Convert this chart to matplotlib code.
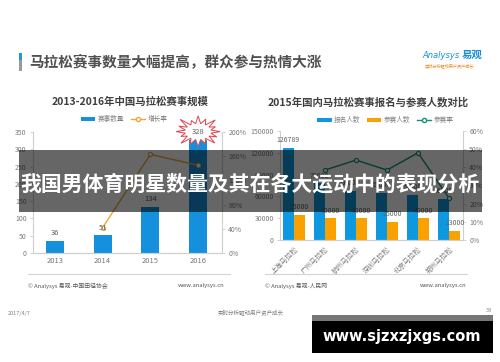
import numpy as np
import matplotlib
matplotlib.use('Agg')
import matplotlib.pyplot as plt
from matplotlib.patches import Rectangle, Polygon, Patch
from matplotlib.lines import Line2D
from matplotlib import transforms as mtrans

plt.rcParams['font.family'] = ['Noto Sans CJK SC', 'DejaVu Sans']

# ---------------- data ----------------
years = ['2013', '2014', '2015', '2016']
event_counts = [36, 51, 134, 328]
growth_rate = [np.nan, 42, 163, 145]          # %
left_yticks = [0, 50, 100, 150, 200, 250, 300, 350]
left_rticks = [0, 40, 80, 120, 160, 200]

cities = ['上海马拉松', '广州马拉松', '杭州马拉松', '深圳马拉松', '北京马拉松', '郑州马拉松']
registrations = [126789, 78000, 68000, 65000, 62500, 56500]
participants = [35000, 30000, 30000, 25000, 30000, 13000]
participation_rate = [np.nan, 38.5, 44, 38.5, 48, 23]   # %
right_yticks = [0, 30000, 60000, 90000, 120000, 150000]
right_rticks = [0, 10, 20, 30, 40, 50, 60]

W, H = 500, 362
fig = plt.figure(figsize=(5, 3.62), dpi=100)
fig.patch.set_facecolor('white')


def box(x0, y0, x1, y1):
    return [x0 / W, 1 - y1 / H, (x1 - x0) / W, (y1 - y0) / H]


AX_C = '#cfcfcf'
LAB_C = '#7a7a7a'
VAL_C = '#606060'


def style(ax):
    ax.set_facecolor('none')
    ax.spines['top'].set_visible(False)
    for s in ['left', 'right', 'bottom']:
        ax.spines[s].set_color(AX_C)
        ax.spines[s].set_linewidth(0.8)
    ax.tick_params(axis='y', colors=AX_C, labelcolor=LAB_C, labelsize=5,
                   length=2.5, width=0.6, pad=2)
    ax.tick_params(axis='x', length=0, labelcolor=LAB_C, labelsize=5.5, pad=3)


# ---------------- left chart ----------------
ax1 = fig.add_axes(box(33, 132, 222, 253))
x1 = np.arange(len(years))
ax1.bar(x1, event_counts, width=0.38, color='#1590dc', zorder=2)
ax1.set_xlim(-0.46, 3.5)
ax1.set_ylim(0, 350)
ax1.set_yticks(left_yticks)
ax1.set_xticks(x1)
ax1.set_xticklabels(years)
style(ax1)
ax1.spines['right'].set_visible(False)

ax1b = ax1.twinx()
style(ax1b)
ax1b.spines['left'].set_visible(False)
ax1b.set_ylim(0, 200)
ax1b.set_yticks(left_rticks)
ax1b.set_yticklabels([f'{v}%' for v in left_rticks])
ax1b.plot(x1, growth_rate, color='#eea733', lw=1, marker='o', ms=3,
          mfc='white', mec='#eea733', mew=0.8, zorder=3)

# starburst behind the highest value label
n = 32
ang = np.linspace(0, 2 * np.pi, n, endpoint=False)
fac = np.array([1.0, 0.85, 1.1, 0.9, 1.05, 0.8, 1.15, 0.95,
                1.0, 0.85, 1.1, 0.9, 1.0, 0.88, 1.08, 0.92])
idx = np.arange(n)
rx = np.where(idx % 2 == 0, 22 * fac[idx // 2], 13)
ry = np.where(idx % 2 == 0, 15 * fac[idx // 2], 8)
verts = np.column_stack([rx * np.cos(ang), ry * np.sin(ang) + 8])
star_t = mtrans.Affine2D().scale(fig.dpi / 100) + \
    mtrans.ScaledTranslation(x1[-1], event_counts[-1], ax1.transData)
star = Polygon(verts, closed=True, facecolor='white', edgecolor='#e0434b',
               lw=0.7, transform=star_t, clip_on=False, zorder=4)
ax1b.add_patch(star)

for i, v in enumerate(event_counts):
    ax1b.annotate(str(v), xy=(i, v), xycoords=ax1.transData, xytext=(0, 2.5),
                  textcoords='offset points', ha='center', va='bottom',
                  fontsize=5.5, color=VAL_C, zorder=5)

h1 = [Patch(facecolor='#1590dc', edgecolor='none'),
      Line2D([], [], color='#eea733', lw=1, marker='o', ms=3, mfc='white', mec='#eea733')]
ax1b.legend(h1, ['赛事数量', '增长率'], loc='center', bbox_to_anchor=(124 / W, 1 - 119 / H),
            bbox_transform=fig.transFigure, ncol=2, frameon=False, fontsize=4.8,
            handlelength=2.2, handleheight=0.5, handletextpad=0.3, columnspacing=1.0,
            labelcolor='#808080')

# ---------------- right chart ----------------
ax2 = fig.add_axes(box(280, 131, 463, 240))
x2 = np.arange(len(cities))
ax2.bar(x2 - 0.18, registrations, width=0.36, color='#0e98e0', zorder=2)
ax2.bar(x2 + 0.18, participants, width=0.36, color='#f8a100', zorder=2)
ax2.set_xlim(-0.45, 5.45)
ax2.set_ylim(0, 150000)
ax2.set_yticks(right_yticks)
ax2.set_xticks(x2)
ax2.set_xticklabels(cities, rotation=45, ha='right', va='top', rotation_mode='anchor')
style(ax2)
ax2.tick_params(axis='x', labelsize=5, pad=4)
ax2.spines['right'].set_visible(False)

ax2b = ax2.twinx()
style(ax2b)
ax2b.spines['left'].set_visible(False)
ax2b.set_ylim(0, 60)
ax2b.set_yticks(right_rticks)
ax2b.set_yticklabels([f'{v}%' for v in right_rticks])
ax2b.plot(x2, participation_rate, color='#168f7e', lw=1, marker='o', ms=3,
          mfc='white', mec='#168f7e', mew=0.8, zorder=3)

for i, v in enumerate(registrations):
    ax2b.annotate(str(v), xy=(i - 0.18, v), xycoords=ax2.transData, xytext=(0, 2.5),
                  textcoords='offset points', ha='center', va='bottom',
                  fontsize=5, color=VAL_C)
for i, v in enumerate(participants):
    ax2b.annotate(str(v), xy=(i + 0.18, v), xycoords=ax2.transData, xytext=(0, 2.5),
                  textcoords='offset points', ha='center', va='bottom',
                  fontsize=5, color=VAL_C)

h2 = [Patch(facecolor='#0e98e0', edgecolor='none'),
      Patch(facecolor='#f8a100', edgecolor='none'),
      Line2D([], [], color='#168f7e', lw=1, marker='o', ms=3, mfc='white', mec='#168f7e')]
ax2b.legend(h2, ['报名人数', '参赛人数', '参赛率'], loc='center',
            bbox_to_anchor=(385 / W, 1 - 120 / H), bbox_transform=fig.transFigure,
            ncol=3, frameon=False, fontsize=4.8, handlelength=2.2, handleheight=0.5,
            handletextpad=0.3, columnspacing=1.0, labelcolor='#808080')

# ---------------- overlay: page decorations ----------------
ov = fig.add_axes([0, 0, 1, 1], zorder=10)
ov.set_xlim(0, W)
ov.set_ylim(H, 0)
ov.axis('off')
ov.patch.set_visible(False)

ov.add_patch(Rectangle((19, 53), 3, 7, color='#1a9ae0', lw=0))
ov.add_patch(Rectangle((19, 60), 3, 11, color='#9a9a9a', lw=0))
ov.text(29, 62.5, '马拉松赛事数量大幅提高，群众参与热情大涨', fontsize=10.5,
        color='#505050', va='center', ha='left', weight='bold')

ov.text(422, 55, 'Analysys', fontsize=6, style='italic', color='#1a8ed8',
        va='center', ha='left', family=['DejaVu Sans'])
ov.text(462, 55, '易观', fontsize=7.5, color='#1a8ed8', va='center', ha='left', weight='bold')
ov.text(425, 66, '实时分析驱动用户资产成长', fontsize=3, color='#f08a2a', va='center', ha='left')

ov.text(130, 102, '2013-2016年中国马拉松赛事规模', fontsize=7.5, color='#404040',
        ha='center', va='center', weight='bold')
ov.text(368, 102, '2015年国内马拉松赛事报名与参赛人数对比', fontsize=7.5, color='#404040',
        ha='center', va='center', weight='bold')

ov.plot([28, 230], [274, 274], color='#d4d4d4', lw=0.8)
ov.plot([265, 467], [274, 274], color='#d4d4d4', lw=0.8)
ov.text(28, 286, '© Analysys 易观-中国田径协会', fontsize=4.2, color='#555555', va='center')
ov.text(224, 286, 'www.analysys.cn', fontsize=4.2, color='#555555', va='center', ha='right')
ov.text(265, 286, '© Analysys 易观-人民网', fontsize=4.2, color='#555555', va='center')
ov.text(466, 286, 'www.analysys.cn', fontsize=4.2, color='#555555', va='center', ha='right')

ov.text(8, 313, '2017/4/7', fontsize=4, color='#808080', va='center')
ov.text(251, 313, '实时分析驱动用户资产成长', fontsize=4, color='#808080', va='center', ha='center')
ov.text(492, 311, '33', fontsize=4, color='#808080', va='center', ha='right')

# dark banner
ov.add_patch(Rectangle((19, 150), 463, 62, facecolor='black', alpha=0.6, lw=0))
ov.text(250, 184, '我国男体育明星数量及其在各大运动中的表现分析', fontsize=15,
        color='white', ha='center', va='center', weight='bold')

# site watermark box
ov.add_patch(Rectangle((312, 315), 181, 6, facecolor='#777777', lw=0))
ov.add_patch(Rectangle((312, 321), 181, 32, facecolor='black', lw=0))
ov.text(402, 337, 'www.sjzxzjxgs.com', fontsize=10.5, color='white', weight='bold',
        ha='center', va='center', family=['DejaVu Sans'])

fig.savefig('out.png', dpi=100, facecolor='white')
